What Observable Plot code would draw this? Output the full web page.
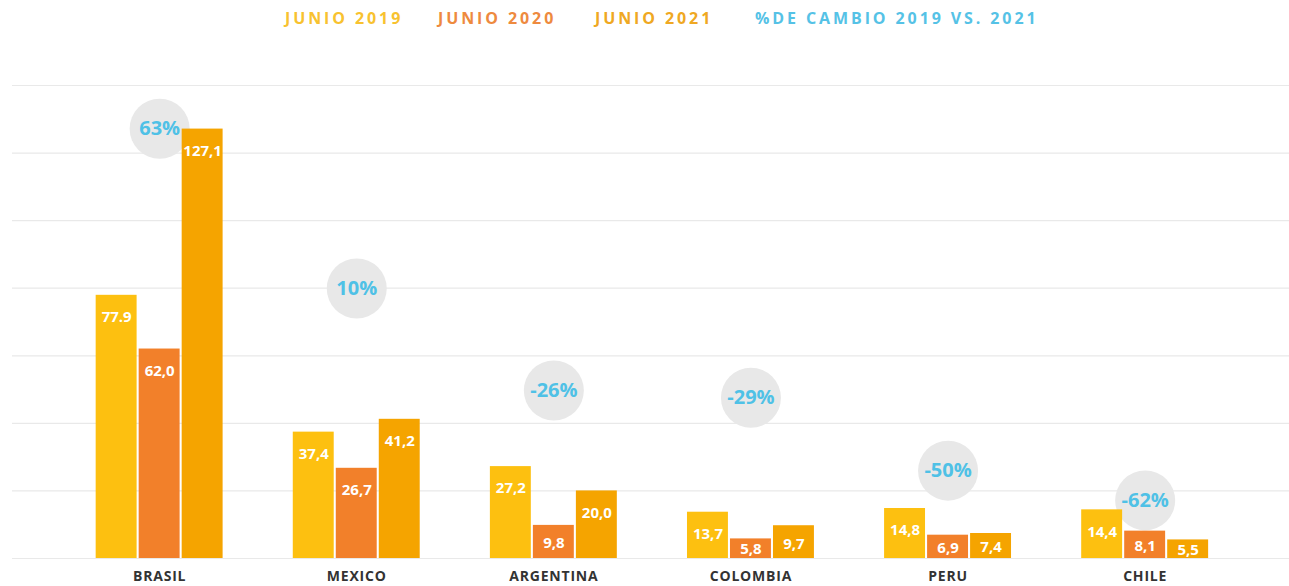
<!DOCTYPE html>
<html>
<head>
<meta charset="utf-8">
<script src="https://cdn.jsdelivr.net/npm/d3@7"></script>
<script src="https://cdn.jsdelivr.net/npm/@observablehq/plot@0.6"></script>
<style>
  html, body { margin: 0; padding: 0; background: #fff; }
  #legend { position: relative; width: 1289px; height: 40px; font-family: "Open Sans", sans-serif; font-weight: 700; font-size: 16px; letter-spacing: 2.9px; }
  #legend span { position: absolute; top: 7px; white-space: nowrap; }
  svg text { font-family: "Open Sans", sans-serif; }
  g[aria-label="x-axis tick label"] text { letter-spacing: 0.8px; }
</style>
</head>
<body>
<div id="legend"></div>
<div id="chart"></div>
<script>
const countries = ["BRASIL", "MEXICO", "ARGENTINA", "COLOMBIA", "PERU", "CHILE"];
const years = ["JUNIO 2019", "JUNIO 2020", "JUNIO 2021"];
const v2019 = [77.9, 37.4, 27.2, 13.7, 14.8, 14.4];
const v2020 = [62.0, 26.7, 9.8, 5.8, 6.9, 8.1];
const v2021 = [127.1, 41.2, 20.0, 9.7, 7.4, 5.5];
const labels2019 = ["77.9", "37,4", "27,2", "13,7", "14,8", "14,4"];
const labels2020 = ["62,0", "26,7", "9,8", "5,8", "6,9", "8,1"];
const labels2021 = ["127,1", "41,2", "20,0", "9,7", "7,4", "5,5"];
const pctChange = ["63%", "10%", "-26%", "-29%", "-50%", "-62%"];
const bubbleLevel = [127.2, 79.9, 49.7, 47.6, 26.0, 17.2];
const gridTicks = [0, 20, 40, 60, 80, 100, 120, 140];
const pctLabel = "%DE CAMBIO 2019 VS. 2021";

const barColors = ["#fdc010", "#f2802a", "#f5a400"];
const legendColors = ["#f8c22f", "#ee8a3e", "#efa822", "#55c2e6"];

const series = [v2019, v2020, v2021];
const seriesLabels = [labels2019, labels2020, labels2021];
const rowsBy = years.map((y, j) => countries.map((c, i) => ({country: c, year: y, value: series[j][i], label: seriesLabels[j][i]})));
const bubbles = countries.map((c, i) => ({country: c, pct: pctChange[i], level: bubbleLevel[i]}));

// legend
const legendItems = [...years, pctLabel];
const legendLeft = [285, 438, 595, 755];
const legend = document.getElementById("legend");
legendItems.forEach((t, i) => {
  const s = document.createElement("span");
  s.textContent = t;
  s.style.left = legendLeft[i] + "px";
  s.style.color = legendColors[i];
  legend.appendChild(s);
});

// bar geometry within each country band (style constants, pixels)
const barW = 41, barStep = 43, groupW = 127;
const barMarks = [];
const labelMarks = [];
rowsBy.forEach((rows, j) => {
  barMarks.push(Plot.barY(rows, {
    x: "country", y: "value", fill: "year",
    insetLeft: j * barStep, insetRight: groupW - barW - j * barStep
  }));
  labelMarks.push(Plot.text(rows, {
    x: "country",
    y: d => Math.max(d.value - 6.5, d.value * 0.45, 2.3),
    dx: (j - 1) * barStep,
    text: "label", fill: "white", fontSize: 15, fontWeight: "bold"
  }));
});

const chart = Plot.plot({
  width: 1289,
  height: 546,
  marginTop: 45,
  marginBottom: 28,
  marginLeft: 25.5,
  marginRight: 10.7,
  style: {fontFamily: "'Open Sans', sans-serif", background: "white"},
  x: {domain: countries, padding: 0.356, label: null, round: false},
  y: {domain: [0, 140], axis: null},
  color: {domain: years, range: barColors},
  marks: [
    Plot.ruleY(gridTicks, {y: d => d, stroke: "#e9e9e9", strokeWidth: 1.2, insetLeft: -13.5, insetRight: -11}),
    Plot.dot(bubbles, {x: "country", y: "level", r: 30, fill: "#e8e8e8", stroke: "none"}),
    ...barMarks,
    ...labelMarks,
    Plot.text(bubbles, {x: "country", y: "level", text: "pct", fill: "#4fc1e6", fontSize: 20, fontWeight: "bold"}),
    Plot.axisX({anchor: "bottom", tickSize: 0, tickPadding: 13, fontSize: 14, fontWeight: "bold", fill: "#333", label: null})
  ]
});
document.getElementById("chart").appendChild(chart);
</script>
</body>
</html>
